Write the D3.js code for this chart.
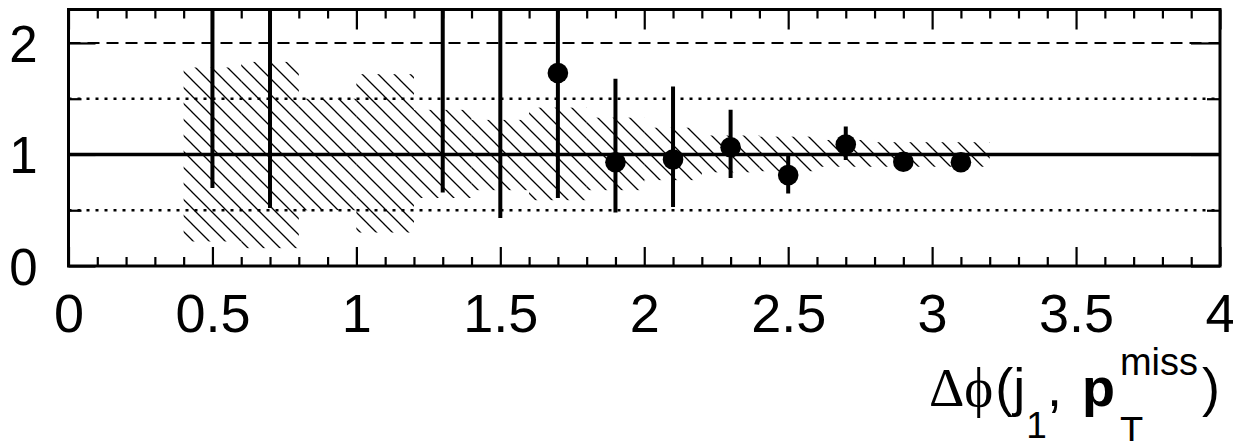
<!DOCTYPE html>
<meta charset="utf-8">
<title>Ratio vs delta phi</title>
<style>
  body { margin: 0; background: #fff; }
  svg { display: block; font-family: "Liberation Sans", Arial, sans-serif; }
  text { white-space: pre; }
</style>
<body>
<script src="https://d3js.org/d3.v7.min.js"></script>
<script type="text/javascript">

// bin centres of the hatched uncertainty band (bin width 0.2)
var bandX  = [0.5, 0.7, 0.9, 1.1, 1.3, 1.5, 1.7, 1.9, 2.1, 2.3, 2.5, 2.7, 2.9, 3.1];
var bandLo = [0.22, 0.16, 0.50, 0.30, 0.61, 0.68, 0.59, 0.68, 0.77, 0.84, 0.85, 0.89, 0.89, 0.89];
var bandHi = [1.78, 1.83, 1.50, 1.72, 1.40, 1.31, 1.42, 1.33, 1.24, 1.17, 1.16, 1.13, 1.11, 1.11];
var binW = 0.2;

// data points (null = marker above the visible range)
var ptX    = [0.5, 0.7, 1.3, 1.5, 1.7, 1.9, 2.1, 2.3, 2.5, 2.7, 2.9, 3.1];
var ptY    = [null, null, null, null, 1.73, 0.93, 0.955, 1.065, 0.815, 1.09, 0.935, 0.93];
var ptLo   = [0.70, 0.52, 0.66, 0.43, 0.61, 0.48, 0.53, 0.79, 0.65, 0.95, 0.91, 0.91];
var ptHi   = [2.3, 2.3, 2.3, 2.3, 2.3, 1.68, 1.61, 1.40, 1.00, 1.25, 0.96, 0.95];

var xMajor = [0, 0.5, 1, 1.5, 2, 2.5, 3, 3.5, 4];
var xLabels = ["0", "0.5", "1", "1.5", "2", "2.5", "3", "3.5", "4"];
var yMajor = [0, 1, 2];
var yMinor = [0.5, 1.5];

var width = 1233, height = 441;
var pLeft = 68.5, pRight = 1220, pTop = 9.5, pBottom = 266;

var svg = d3.select("body").append("svg")
    .attr("width", width)
    .attr("height", height);

var x = d3.scaleLinear().domain([0, 4]).range([pLeft, pRight]);
var y = d3.scaleLinear().domain([0, 2.3]).range([pBottom, pTop]);

var defs = svg.append("defs");
var pat = defs.append("pattern")
    .attr("id", "hatch")
    .attr("patternUnits", "userSpaceOnUse")
    .attr("width", 16).attr("height", 16);
pat.append("path")
    .attr("d", "M-4,-4 L20,20 M-4,12 L4,20 M12,-4 L20,4")
    .attr("stroke", "#000").attr("stroke-width", 1.3);

defs.append("clipPath").attr("id", "frame")
  .append("rect")
    .attr("x", pLeft).attr("y", pTop)
    .attr("width", pRight - pLeft).attr("height", pBottom - pTop);

// hatched band
svg.append("g").selectAll("rect")
  .data(bandX)
  .enter().append("rect")
    .attr("x", function(d) { return x(d - binW / 2); })
    .attr("width", function(d) { return x(d + binW / 2) - x(d - binW / 2); })
    .attr("y", function(d, i) { return y(bandHi[i]); })
    .attr("height", function(d, i) { return y(bandLo[i]) - y(bandHi[i]); })
    .attr("fill", "url(#hatch)");

// reference lines
var grid = svg.append("g");
function hline(v, w, dash) {
  grid.append("line")
    .attr("x1", pLeft).attr("x2", pRight)
    .attr("y1", y(v)).attr("y2", y(v))
    .attr("stroke", "#000")
    .attr("stroke-width", w)
    .attr("stroke-dasharray", dash);
}
hline(2, 2, "12,7");
hline(1.5, 2.5, "3,6");
hline(0.5, 2.5, "3,6");
hline(1, 3.5, null);

// error bars and markers
var pts = svg.append("g").attr("clip-path", "url(#frame)");
pts.selectAll("line")
  .data(ptX)
  .enter().append("line")
    .attr("x1", function(d) { return x(d); })
    .attr("x2", function(d) { return x(d); })
    .attr("y1", function(d, i) { return y(ptLo[i]); })
    .attr("y2", function(d, i) { return y(ptHi[i]); })
    .attr("stroke", "#000")
    .attr("stroke-width", 4);
pts.selectAll("circle")
  .data(ptX.filter(function(d, i) { return ptY[i] !== null; }))
  .enter().append("circle")
    .attr("cx", function(d) { return x(d); })
    .attr("cy", function(d) { return y(ptY[ptX.indexOf(d)]); })
    .attr("r", 10.3)
    .attr("fill", "#000");

// axes - ticks point inwards on all four sides
var xMinor = d3.range(0, 4.001, 0.1).filter(function(v) {
  return Math.abs(v * 2 - Math.round(v * 2)) > 1e-6;
});

function styleAxis(g) {
  g.select(".domain").remove();
  g.selectAll(".tick line").attr("stroke", "#000").attr("stroke-width", 2.2);
}

svg.append("g")
    .attr("transform", "translate(0," + pBottom + ")")
    .call(d3.axisBottom(x).tickValues(xMajor).tickSize(-19).tickPadding(28)
      .tickFormat(function(d, i) { return xLabels[i]; }))
    .call(styleAxis)
    .call(function(g) {
      g.selectAll("text").attr("font-size", 54).attr("fill", "#000")
        .attr("font-family", "Liberation Sans, Arial, sans-serif");
    });
svg.append("g")
    .attr("transform", "translate(0," + pBottom + ")")
    .call(d3.axisBottom(x).tickValues(xMinor).tickSize(-9).tickFormat(""))
    .call(styleAxis);
svg.append("g")
    .attr("transform", "translate(0," + pTop + ")")
    .call(d3.axisTop(x).tickValues(xMajor).tickSize(-20).tickFormat(""))
    .call(styleAxis);
svg.append("g")
    .attr("transform", "translate(0," + pTop + ")")
    .call(d3.axisTop(x).tickValues(xMinor).tickSize(-9).tickFormat(""))
    .call(styleAxis);

svg.append("g")
    .attr("transform", "translate(" + pLeft + ",0)")
    .call(d3.axisLeft(y).tickValues(yMajor).tickSize(-27).tickPadding(31)
      .tickFormat(d3.format("d")))
    .call(styleAxis)
    .call(function(g) {
      g.selectAll("text").attr("font-size", 51).attr("fill", "#000")
        .attr("dy", "0.36em")
        .attr("font-family", "Liberation Sans, Arial, sans-serif");
    });
svg.append("g")
    .attr("transform", "translate(" + pLeft + ",0)")
    .call(d3.axisLeft(y).tickValues(yMinor).tickSize(-13).tickFormat(""))
    .call(styleAxis);
svg.append("g")
    .attr("transform", "translate(" + pRight + ",0)")
    .call(d3.axisRight(y).tickValues(yMajor).tickSize(-29).tickFormat(""))
    .call(styleAxis);
svg.append("g")
    .attr("transform", "translate(" + pRight + ",0)")
    .call(d3.axisRight(y).tickValues(yMinor).tickSize(-13).tickFormat(""))
    .call(styleAxis);

// frame
svg.append("rect")
    .attr("x", pLeft).attr("y", pTop)
    .attr("width", pRight - pLeft).attr("height", pBottom - pTop)
    .attr("fill", "none").attr("stroke", "#000").attr("stroke-width", 3);

// x axis title: Δϕ(j1, pT^miss), right aligned to the frame
var title = svg.append("g");
var cx = 0, base = 406;
function piece(t, size, dy, opts) {
  opts = opts || {};
  var el = title.append("text")
      .attr("x", cx)
      .attr("y", base + dy)
      .attr("font-size", size)
      .attr("font-family", opts.serif ? "Liberation Serif, DejaVu Serif, serif" : "Liberation Sans, Arial, sans-serif")
      .attr("font-weight", opts.bold ? "bold" : "normal")
      .attr("fill", "#000")
      .text(t);
  return el.node().getComputedTextLength();
}
cx += piece("\u0394\u03D5", 55, 0, { serif: true }) + 2;
cx += piece("(j", 54, 0) + 1;
cx += piece("1", 37, 32);
cx += piece(",", 54, 0) + 20;
cx += piece("p", 54, 0, { bold: true }) + 5;
var w1 = piece("miss", 38, -31);
var w2 = piece("T", 38, 38);
cx += Math.max(w1, w2) + 4;
cx += piece(")", 54, 0);
title.attr("transform", "translate(" + (pRight - cx) + ",0)");

</script>
</body>
